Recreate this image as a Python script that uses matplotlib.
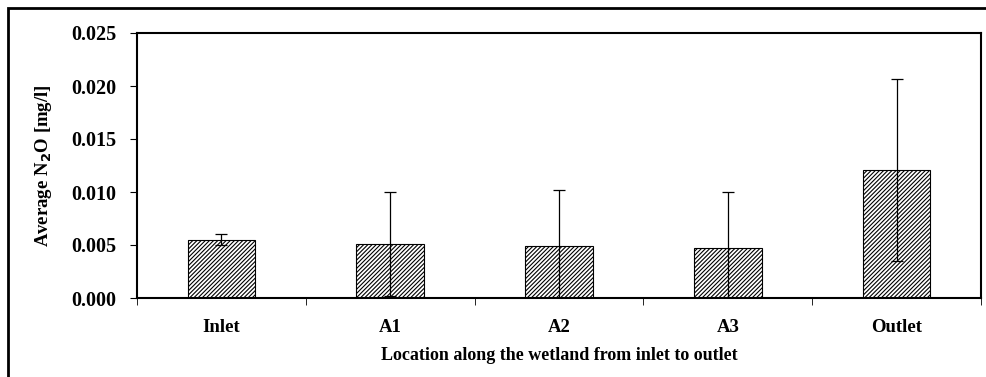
import matplotlib
matplotlib.use("Agg")
import matplotlib.pyplot as plt
from matplotlib.patches import Rectangle
import numpy as np

plt.rcParams['font.family'] = ['Liberation Serif', 'DejaVu Serif']
plt.rcParams['font.weight'] = 'bold'
plt.rcParams['hatch.linewidth'] = 0.8

locations = ["Inlet", "A1", "A2", "A3", "Outlet"]
mean_n2o = [0.0055, 0.0051, 0.0049, 0.0047, 0.0121]
err_n2o = [0.0005, 0.0049, 0.0053, 0.0053, 0.0086]
yticks = [0.000, 0.005, 0.010, 0.015, 0.020, 0.025]

fig = plt.figure(figsize=(9.87, 3.77), dpi=100)
ax = fig.add_axes([137/987, 1-298/377, (981-137)/987, (298-33)/377])

x = np.arange(len(locations))
ax.bar(x, mean_n2o, width=0.4, color="white", edgecolor="black", hatch="////////", linewidth=0.8)
ax.errorbar(x, mean_n2o, yerr=err_n2o, fmt="none", ecolor="black", elinewidth=0.9, capsize=4, capthick=0.9)

ax.set_xlim(-0.5, len(locations)-0.5)
ax.set_ylim(0, 0.025)
ax.set_yticks(yticks)
ax.set_yticklabels(["%.3f" % v for v in yticks], fontsize=14.5, fontweight="bold")
ax.set_xticks(x)
ax.set_xticklabels(locations, fontsize=13.5, fontweight="bold")
ax.tick_params(axis="x", length=0, pad=15)
ax.set_xticks(np.arange(len(locations)+1)-0.5, minor=True)
ax.tick_params(axis="x", which="minor", length=5, direction="out")
ax.tick_params(axis="y", length=5, direction="out", pad=10)
for s in ax.spines.values():
    s.set_linewidth(1.5)

ax.set_xlabel("Location along the wetland from inlet to outlet", fontsize=13, fontweight="bold", labelpad=8)
ax.set_ylabel("Average N$_2$O [mg/l]", fontsize=13.5, fontweight="bold", labelpad=12)

fig.patches.append(Rectangle((8/987, -0.5), 2, 1.5-8/377, transform=fig.transFigure,
                             fill=False, edgecolor="black", linewidth=2))

fig.savefig("out.png", dpi=100)
